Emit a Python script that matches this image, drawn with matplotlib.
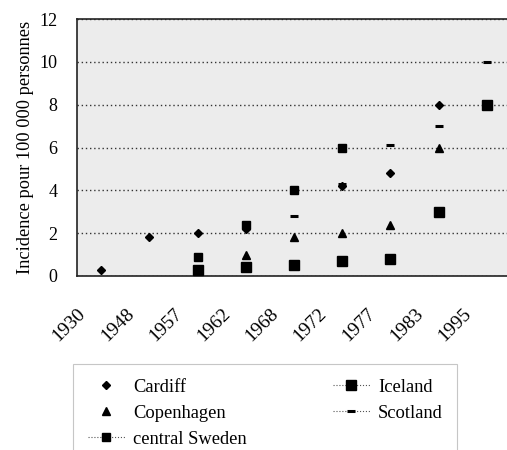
import numpy as np
import matplotlib
matplotlib.use('Agg')
import matplotlib.pyplot as plt
from matplotlib.lines import Line2D
from matplotlib.transforms import ScaledTranslation

plt.rcParams['font.family'] = ['Liberation Serif', 'DejaVu Serif']

# categories (years) and incidence per 100 000 persons
years = ['1930', '1948', '1957', '1962', '1968', '1972', '1977', '1983', '1995']
nan = np.nan
cardiff = [0.3, 1.8, 2.0, 2.2, nan, 4.2, 4.8, 8.0, nan]
copenhagen = [nan, nan, nan, 1.0, 1.8, 2.0, 2.4, 6.0, nan]
central_sweden = [nan, nan, 0.9, 2.4, 4.0, 6.0, nan, nan, nan]
iceland = [nan, nan, 0.3, 0.4, 0.5, 0.7, 0.8, 3.0, 8.0]
scotland = [nan, nan, nan, nan, 2.8, 4.3, 6.1, 7.0, 10.0]
y_ticks = [0, 2, 4, 6, 8, 10, 12]

fig = plt.figure(figsize=(5.07, 4.5), dpi=100)
ax = fig.add_axes([77 / 507, 1 - 276 / 450, 434 / 507, 257 / 450])
ax.set_facecolor('#ececec')

x = np.arange(len(years))
styles = [
    ('Cardiff', cardiff, dict(marker='D', ms=4.5), False),
    ('Copenhagen', copenhagen, dict(marker='^', ms=6), False),
    ('central Sweden', central_sweden, dict(marker='s', ms=5.5), True),
    ('Iceland', iceland, dict(marker='s', ms=7.5), True),
    ('Scotland', scotland, dict(marker='_', ms=5.5, mew=2.2), True),
]

handles = []
for name, vals, mk, dotted in styles:
    ax.plot(x, vals, linestyle='none', color='black', zorder=3, **mk)
    handles.append(Line2D([], [], color='#555555', lw=0.8,
                          linestyle=':' if dotted else 'none',
                          markerfacecolor='black', markeredgecolor='black',
                          label=name, **mk))

ax.set_xlim(-0.5, 8.5)
ax.set_ylim(0, 12)
ax.set_yticks(y_ticks)
ax.set_xticks(x)
ax.set_xticklabels([])
# rotated year labels, shifted left/down like the original
offset = ScaledTranslation(-0.12, -0.29, fig.dpi_scale_trans)
for i, yr in enumerate(years):
    ax.text(i, 0, yr, transform=ax.get_xaxis_transform() + offset,
            rotation=45, ha='right', va='top', fontsize=14)
ax.tick_params(axis='x', length=0)
ax.tick_params(axis='y', length=0, pad=14, labelsize=13)
ax.yaxis.grid(True, linestyle=(0, (1, 2)), color='#333333', linewidth=1)
ax.set_axisbelow(True)
for s in ['left', 'bottom', 'top']:
    ax.spines[s].set_color('#222222')
    ax.spines[s].set_linewidth(1.2)
ax.spines['right'].set_visible(False)
ax.set_ylabel('Incidence pour 100 000 personnes', fontsize=13.2, labelpad=4)

leg = fig.legend(handles=handles, ncol=2, loc='upper left',
                 bbox_to_anchor=(73 / 507, 1 - 364 / 450), fontsize=13.3,
                 frameon=True, fancybox=False, handlelength=2.0,
                 handletextpad=0.45, columnspacing=4.65, labelspacing=0.48,
                 borderpad=0.8, borderaxespad=0)
leg.get_frame().set_edgecolor('#b8b8b8')
leg.get_frame().set_linewidth(0.8)

fig.savefig('out.png', dpi=100)
